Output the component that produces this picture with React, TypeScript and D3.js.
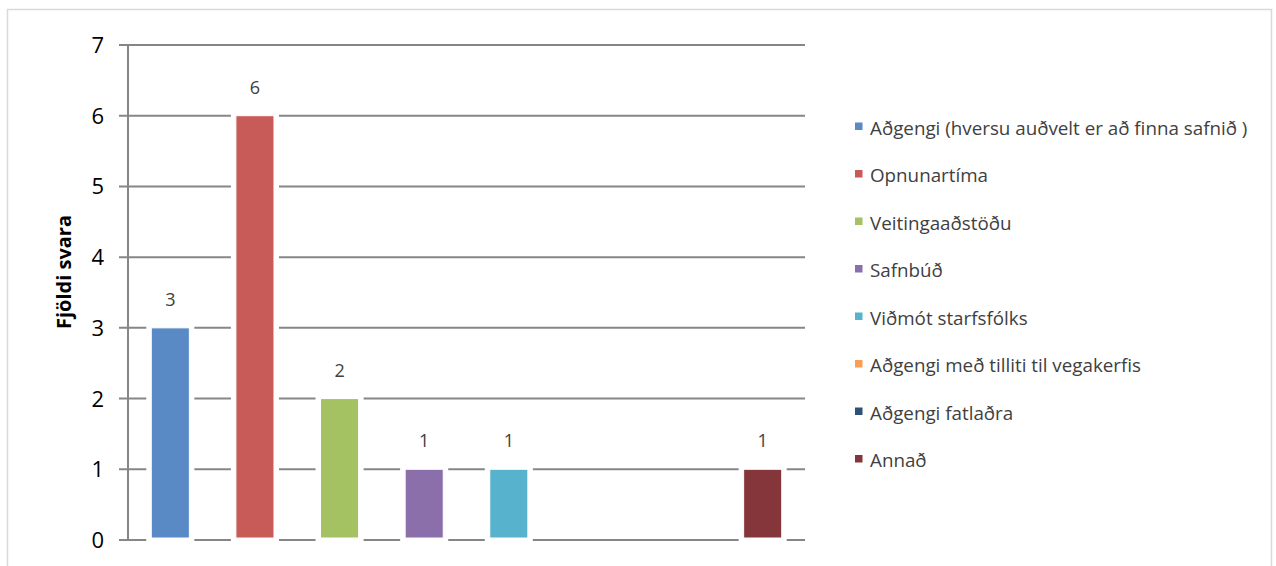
import React from "react";
import * as d3 from "d3";

const categories = [
  "Aðgengi (hversu auðvelt er að finna safnið )",
  "Opnunartíma",
  "Veitingaaðstöðu",
  "Safnbúð",
  "Viðmót starfsfólks",
  "Aðgengi með tilliti til vegakerfis",
  "Aðgengi fatlaðra",
  "Annað",
];
const values = [3, 6, 2, 1, 1, 0, 0, 1];
const colors = ["#5A8AC6", "#C85B58", "#A5C263", "#8A6FAA", "#57B3CD", "#F99F55", "#2E5077", "#84363A"];
const yTicks = [0, 1, 2, 3, 4, 5, 6, 7];
const yTitle = "Fjöldi svara";

const W = 1276;
const H = 566;
const FONT = "'Open Sans', sans-serif";

export default function App() {
  const x = d3.scaleBand<number>().domain(d3.range(categories.length)).range([128, 805]).paddingInner(0.55).paddingOuter(0.275);
  const y = d3.scaleLinear().domain([0, 7]).range([540, 45]);
  const bw = x.bandwidth();
  return (
    <svg width={W} height={H} style={{ position: "absolute", left: 0, top: 0 }}>
      <rect x={7.5} y={9.5} width={1264} height={570} fill="#fff" stroke="#D9D9D9" strokeWidth={1.5} />
      {yTicks.map((t) => (
        <line key={"g" + t} x1={119} x2={805} y1={y(t)} y2={y(t)} stroke="#868686" strokeWidth={2} />
      ))}
      <line x1={128} x2={128} y1={y(7)} y2={y(0)} stroke="#868686" strokeWidth={2} />
      {values.map((v, i) =>
        v > 0 ? (
          <g key={"b" + i}>
            <rect x={(x(i) as number) - 5} y={y(v) - 5} width={bw + 10} height={y(0) - y(v) + 10} fill="#fff" />
            <rect x={x(i)} y={y(v)} width={bw} height={y(0) - y(v) - 2} fill={colors[i]} stroke="#fff" strokeWidth={1} />
            <text x={(x(i) as number) + bw / 2} y={y(v) - 22} textAnchor="middle" fontFamily={FONT} fontSize={18} fill="#404040">
              {v}
            </text>
          </g>
        ) : null
      )}
      {yTicks.map((t) => (
        <text key={"t" + t} x={104} y={y(t) + 8} textAnchor="end" fontFamily={FONT} fontSize={22} fill="#000">
          {t}
        </text>
      ))}
      <text transform={`translate(71,272) rotate(-90)`} textAnchor="middle" fontFamily={FONT} fontSize={20} fontWeight="bold" fill="#000">
        {yTitle}
      </text>
      {categories.map((c, i) => {
        const cy = 128 + i * 47.5;
        return (
          <g key={"l" + i}>
            <rect x={855} y={cy - 5.5} width={7.5} height={7.5} fill={colors[i]} />
            <text x={870} y={cy + 6.5} fontFamily={FONT} fontSize={18.8} fill="#404040">
              {c}
            </text>
          </g>
        );
      })}
    </svg>
  );
}
